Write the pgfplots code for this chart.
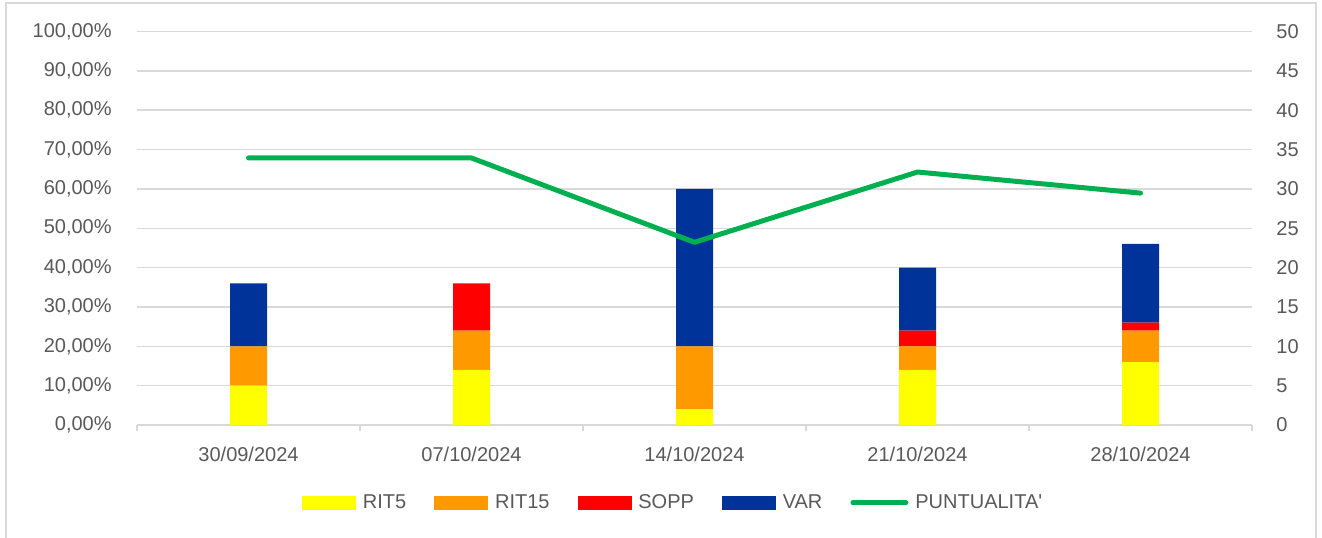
\documentclass[border=0pt]{standalone}
\usepackage{fontspec}
\setmainfont{Liberation Sans}
\usepackage{pgfplots}
\pgfplotsset{compat=1.18}
\definecolor{cgrid}{HTML}{D9D9D9}
\definecolor{ctext}{HTML}{595959}
\definecolor{cyel}{HTML}{FFFF00}
\definecolor{cora}{HTML}{FF9900}
\definecolor{cred}{HTML}{FF0000}
\definecolor{cblu}{HTML}{003399}
\definecolor{cgre}{HTML}{00B050}
\begin{document}
\begin{tikzpicture}[x=1pt,y=1pt]
\path[use as bounding box] (0,0) rectangle (661,268.5);
\draw[cgrid, line width=0.75pt] (3,-5) rectangle (658,267);
\begin{axis}[
  at={(68.5pt,56pt)}, anchor=south west, scale only axis,
  width=557.5pt, height=196.75pt,
  xmin=-0.5, xmax=4.5, ymin=0, ymax=50,
  axis x line*=bottom, axis y line*=right,
  axis line style={-},
  x axis line style={cgrid, line width=0.75pt},
  y axis line style={draw=none},
  ytick={0,5,...,50},
  ymajorgrids, grid style={cgrid, line width=0.75pt},
  xtick={0,1,2,3,4},
  xticklabels={30/09/2024,07/10/2024,14/10/2024,21/10/2024,28/10/2024},
  minor xtick={-0.5,0.5,1.5,2.5,3.5,4.5},
  major tick length=0pt, minor tick length=3pt, tick align=outside,
  minor tick style={cgrid, line width=0.75pt},
  tick label style={text=ctext},
  xticklabel style={inner sep=0pt, yshift=-11pt},
  yticklabel style={inner sep=0pt, anchor=west, xshift=12pt},
  /pgf/number format/assume math mode=true,
  ybar stacked, bar width=18.5pt,
]
\addplot[fill=cyel, draw=none] coordinates {(0,5)(1,7)(2,2)(3,7)(4,8)};
\addplot[fill=cora, draw=none] coordinates {(0,5)(1,5)(2,8)(3,3)(4,4)};
\addplot[fill=cred, draw=none] coordinates {(0,0)(1,6)(2,0)(3,2)(4,1)};
\addplot[fill=cblu, draw=none] coordinates {(0,8)(1,0)(2,20)(3,8)(4,10)};
\end{axis}
\begin{axis}[
  at={(68.5pt,56pt)}, anchor=south west, scale only axis,
  width=557.5pt, height=196.75pt,
  xmin=-0.5, xmax=4.5, ymin=0, ymax=100,
  axis x line=none, axis y line*=left,
  axis line style={-},
  y axis line style={draw=none},
  ytick={0,10,...,100},
  yticklabels={{0,00\%},{10,00\%},{20,00\%},{30,00\%},{40,00\%},{50,00\%},{60,00\%},{70,00\%},{80,00\%},{90,00\%},{100,00\%}},
  major tick length=0pt,
  tick label style={text=ctext},
  yticklabel style={inner sep=0pt, anchor=east, xshift=-12.5pt},
  legend columns=5,
  legend style={draw=none, fill=none, text=ctext,
    at={(rel axis cs:0.48,-0.198)}, anchor=center,
    nodes={inner sep=0pt, anchor=west},
    /tikz/every odd column/.append style={column sep=3.5pt},
    /tikz/every even column/.append style={column sep=14pt}},
]
\addlegendimage{legend image code/.code={\fill[cyel] (0pt,-3.25pt) rectangle (26.5pt,3.25pt);}}
\addlegendentry{RIT5}
\addlegendimage{legend image code/.code={\fill[cora] (0pt,-3.25pt) rectangle (26.5pt,3.25pt);}}
\addlegendentry{RIT15}
\addlegendimage{legend image code/.code={\fill[cred] (0pt,-3.25pt) rectangle (26.5pt,3.25pt);}}
\addlegendentry{SOPP}
\addlegendimage{legend image code/.code={\fill[cblu] (0pt,-3.25pt) rectangle (26.5pt,3.25pt);}}
\addlegendentry{VAR}
\addplot[cgre, line width=2.5pt, line cap=round, line join=round,
  legend image code/.code={\draw[cgre, line width=2.5pt, line cap=round] (1.25pt,0pt) -- (27.75pt,0pt);}]
  coordinates {(0,67.86)(1,67.86)(2,46.43)(3,64.29)(4,58.93)};
\addlegendentry{PUNTUALITA\textquotesingle}
\end{axis}
\end{tikzpicture}
\end{document}
